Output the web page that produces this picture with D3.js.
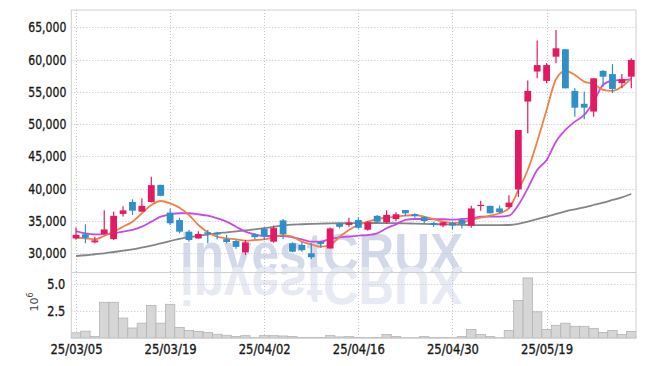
<!DOCTYPE html>
<html><head><meta charset="utf-8">
<script src="https://cdn.jsdelivr.net/npm/d3@7"></script>
<style>body{margin:0;background:#fff}svg{display:block}</style></head>
<body><svg id="c" width="645" height="366"></svg>
<script>
const dates = ["25/03/05","25/03/06","25/03/07","25/03/10","25/03/11","25/03/12","25/03/13","25/03/14","25/03/17","25/03/18",
"25/03/19","25/03/20","25/03/21","25/03/24","25/03/25","25/03/26","25/03/27","25/03/28","25/03/31","25/04/01",
"25/04/02","25/04/03","25/04/04","25/04/07","25/04/08","25/04/09","25/04/10","25/04/11","25/04/14","25/04/15",
"25/04/16","25/04/17","25/04/18","25/04/21","25/04/22","25/04/23","25/04/24","25/04/25","25/04/28","25/04/29",
"25/04/30","25/05/02","25/05/07","25/05/08","25/05/09","25/05/12","25/05/13","25/05/14","25/05/15","25/05/16",
"25/05/19","25/05/20","25/05/21","25/05/22","25/05/23","25/05/26","25/05/27","25/05/28","25/05/29","25/05/30"];
const open  = [32300,32950,31700,33000,32200,36100,37950,36450,37950,40600,36300,35150,33350,32300,33250,33200,32200,31900,30150,32950,
33800,31800,35100,31550,31300,30000,31750,30750,34600,34400,35150,33650,35800,34800,35300,36700,36050,35600,34700,34300,
34700,35150,34300,37450,37350,36950,37150,39900,53500,58150,56700,60450,61600,55150,53150,51950,58250,57750,56350,57350];
const high  = [34000,34500,32550,36650,36450,37300,38350,38500,41850,40600,36950,35500,33600,33400,33600,33350,32850,32050,32050,33100,
34000,34300,35300,31700,31700,31550,31950,34000,34750,35500,35600,35000,35950,36650,36350,36700,36200,35750,34900,34900,
34900,35400,37350,38150,37350,37400,39000,49100,56750,62950,59450,64600,61600,55550,55050,57100,58400,59300,57750,60200];
const low   = [32100,31550,31550,32950,32050,35700,35950,36450,37850,38850,34400,33100,31800,32250,31550,32150,31550,30700,29750,32200,
32050,31650,32200,30150,30250,29100,30900,30700,33850,34100,33850,33500,34650,34550,35000,35800,35500,34700,34100,34050,
33700,33850,33950,36600,36150,36200,36950,38700,48600,57100,56350,59450,55550,51150,50750,51150,55800,54800,55550,55550];
const close = [32850,32400,32000,33700,35800,36650,36600,37350,40550,38900,34650,33350,32050,33000,33000,32900,31750,31000,31700,32500,
32700,33900,32950,30250,30500,29400,31450,33850,34100,34750,33950,34800,34900,35950,36050,36200,35750,35000,34400,34800,
34300,34550,36950,37500,36200,36350,37850,49100,55150,59150,59150,61750,55550,52550,52550,57100,57350,55450,56950,59950];
const volume = [0.48,0.64,0.13,3.33,3.33,1.86,0.93,1.38,3.04,1.38,3.14,0.99,0.70,0.61,0.51,0.35,0.26,0.13,0.22,0.03,
0.22,0.22,0.19,0.13,0.06,0.06,0.06,0.22,0.10,0.13,0.06,0.03,0.05,0.32,0.13,0.03,0.03,0.13,0.06,0.06,
0.03,0.13,0.80,0.32,0.13,0.03,0.70,3.50,5.60,2.44,0.80,1.18,1.38,1.09,1.09,0.90,0.51,0.70,0.32,0.60];
const ma5 = [32480,32320,32170,32680,33350,34120,34900,36200,37480,38100,37740,37060,35930,34380,33250,32570,32320,32170,31950,32060,
32170,32480,32830,32570,31800,31390,31020,31290,32570,33610,34380,34900,35310,35510,35670,35820,35930,35670,35310,34900,
34700,34800,35160,35510,35820,36200,36970,39800,42900,47290,52200,56950,58240,57620,56580,56220,55300,55140,55800,57100];
const ma10 = [33450,33100,32940,32940,33100,33350,33610,34120,34900,35670,36040,36200,36200,36040,35820,35420,34900,34120,33350,32940,
32680,32680,32680,32480,32170,31800,31800,32220,32480,32570,32730,32830,33100,33870,34490,35160,35310,35310,35270,35270,
35200,35310,35420,35670,35670,35670,35820,37480,40060,42900,44450,47290,49100,50390,51420,53480,56070,56740,56840,56950];
const ma60 = [29580,29700,29850,30000,30200,30400,30620,30900,31200,31550,31900,32250,32500,32700,32900,33100,33250,33400,33550,33720,
33900,34100,34300,34450,34500,34550,34600,34620,34650,34660,34680,34690,34690,34680,34660,34640,34600,34560,34520,34480,
34450,34400,34380,34370,34360,34360,34380,34540,34900,35310,35670,36090,36510,36820,37130,37480,37840,38260,38670,39180];
const xTickLabels = ["25/03/05","25/03/19","25/04/02","25/04/16","25/04/30","25/05/19"];
const priceTicks = [30000,35000,40000,45000,50000,55000,60000,65000];
const volumeTicks = [2.5,5.0];

const L = 71.3, R = 636, T = 10, SEP = 272, B = 338;
const UP = "#e31a63", DOWN = "#2f8fc9";
const font = "'DejaVu Sans Condensed','DejaVu Sans',sans-serif";

const svg = d3.select("#c");
const x = d3.scalePoint().domain(dates).range([L, R]).padding(0.5);
const step = x.step();
const y = d3.scaleLinear().domain([27104, 67679]).range([SEP, T]);
const yv = d3.scaleLinear().domain([0, 6.15]).range([B, SEP]);

// watermark (behind everything)
const wm = svg.append("g").attr("font-family", "'Liberation Sans',Arial,sans-serif").attr("font-weight", "bold").attr("font-size", 55);
wm.append("text").attr("x", 180).attr("y", 272).attr("textLength", 283).attr("lengthAdjust", "spacingAndGlyphs")
  .attr("fill", "#d3d9e8").text("investCRUX");
wm.append("text").attr("x", 180).attr("y", -272).attr("transform", "scale(1,-0.98)").attr("textLength", 283).attr("lengthAdjust", "spacingAndGlyphs")
  .attr("fill", "#e7eaf2").text("investCRUX");
svg.append("rect").attr("x", 0).attr("y", B+1).attr("width", 645).attr("height", 30).attr("fill", "#fff");

// grid
const grid = svg.append("g").attr("stroke", "#c3c3d6").attr("stroke-dasharray", "1,2").attr("stroke-width", 1);
priceTicks.forEach(v => grid.append("line").attr("x1", L).attr("x2", R).attr("y1", Math.round(y(v))+0.5).attr("y2", Math.round(y(v))+0.5));
volumeTicks.forEach(v => grid.append("line").attr("x1", L).attr("x2", R).attr("y1", Math.round(yv(v))+0.5).attr("y2", Math.round(yv(v))+0.5));
xTickLabels.forEach(d => grid.append("line").attr("x1", Math.round(x(d))+0.5).attr("x2", Math.round(x(d))+0.5).attr("y1", T).attr("y2", B));

// volume bars
svg.append("g").selectAll("rect").data(volume).join("rect")
  .attr("x", (d, i) => x(dates[i]) - step/2).attr("width", step)
  .attr("y", d => yv(d)).attr("height", d => B - yv(d))
  .attr("fill", "#d6d6d6").attr("stroke", "#b4b4b4").attr("stroke-width", 0.8);

// MA lines
const line = arr => d3.line().x((d, i) => x(dates[i])).y(d => y(d)).curve(d3.curveMonotoneX)(arr);
svg.append("path").attr("d", line(ma60)).attr("fill", "none").attr("stroke", "#858585").attr("stroke-width", 1.8);
svg.append("path").attr("d", line(ma10)).attr("fill", "none").attr("stroke", "#c64be3").attr("stroke-width", 1.8);
svg.append("path").attr("d", line(ma5)).attr("fill", "none").attr("stroke", "#ef8048").attr("stroke-width", 1.8);

// candles
const cg = svg.append("g").selectAll("g").data(dates).join("g");
cg.append("line")
  .attr("x1", d => x(d)).attr("x2", d => x(d))
  .attr("y1", (d, i) => y(high[i])).attr("y2", (d, i) => y(low[i]))
  .attr("stroke", (d, i) => close[i] >= open[i] ? UP : DOWN).attr("stroke-width", 1.2);
cg.append("rect")
  .attr("x", d => x(d) - 3.4).attr("width", 6.8)
  .attr("y", (d, i) => y(Math.max(open[i], close[i])))
  .attr("height", (d, i) => Math.max(1.2, Math.abs(y(open[i]) - y(close[i]))))
  .attr("fill", (d, i) => close[i] >= open[i] ? UP : DOWN);

// frame
svg.append("rect").attr("x", L).attr("y", T).attr("width", R - L).attr("height", B - T)
  .attr("fill", "none").attr("stroke", "#cfcfcf");
svg.append("line").attr("x1", L).attr("x2", R).attr("y1", SEP+0.5).attr("y2", SEP+0.5).attr("stroke", "#cfcfcf");

// axes
const ya = svg.append("g").attr("transform", `translate(${L},0)`)
  .call(d3.axisLeft(y).tickValues(priceTicks).tickFormat(d3.format(",")).tickSize(0).tickPadding(5));
const va = svg.append("g").attr("transform", `translate(${L},0)`)
  .call(d3.axisLeft(yv).tickValues(volumeTicks).tickFormat(d3.format(".1f")).tickSize(0).tickPadding(6));
const xa = svg.append("g").attr("transform", `translate(0,${B})`)
  .call(d3.axisBottom(x).tickValues(xTickLabels).tickSize(0).tickPadding(6));
[ya, va, xa].forEach(g => {
  g.select(".domain").remove();
  g.selectAll("text").attr("font-family", font).attr("font-size", 14).attr("fill", "#1a1a1a")
    .attr("stroke", "#1a1a1a").attr("stroke-width", 0.35)
    .attr("lengthAdjust", "spacingAndGlyphs");
});
ya.selectAll("text").attr("textLength", 38);
va.selectAll("text").attr("textLength", 18);
xa.selectAll("text").attr("textLength", 52);
svg.append("text").attr("transform", "translate(38,302) rotate(-90)").attr("text-anchor", "middle")
  .attr("font-family", "'DejaVu Sans',sans-serif").attr("font-size", 11).attr("fill", "#444")
  .html('10<tspan dy="-5" font-size="8">6</tspan>');
</script></body></html>
